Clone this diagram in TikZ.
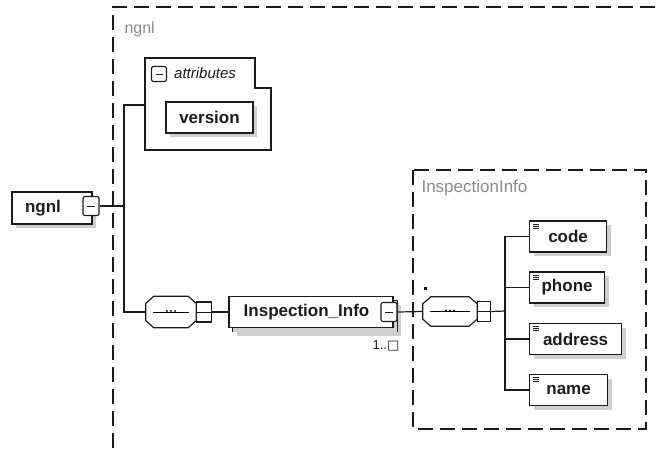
\documentclass[tikz,border=0pt]{standalone}
\usepackage{fontspec}
\setmainfont{Liberation Sans}
\newfontfamily\symfont{DejaVu Sans}
\usetikzlibrary{positioning,shadows}
\definecolor{SchemaInk}{HTML}{1C1C1C}
\definecolor{SchemaMuted}{HTML}{8A8A8A}
\definecolor{SchemaShade}{HTML}{CFCFCF}
\tikzset{
  every node/.style={text=SchemaInk},
  elem/.style={draw=SchemaInk, line width=1.2pt, fill=white, minimum height=31pt,
    inner sep=0pt, font=\fontsize{17}{20}\selectfont\bfseries,
    drop shadow={shadow xshift=4pt, shadow yshift=-4pt, fill=SchemaShade, opacity=1}},
  leaf/.style={elem, path picture={
    \draw[line width=0.7pt] ([shift={(3pt,-3pt)}]path picture bounding box.north west) -- ++(6pt,0pt)
      ++(-6pt,-2pt) -- ++(6pt,0pt) ++(-6pt,-2pt) -- ++(6pt,0pt);}},
  expander/.style={draw=SchemaInk, line width=1.1pt, fill=white, rounded corners=2pt,
    minimum width=16pt, minimum height=19pt, inner sep=0pt, path picture={
    \draw[line width=0.9pt] ([xshift=4pt]path picture bounding box.west) -- ([xshift=-4pt]path picture bounding box.east);}},
  seqtab/.style={draw=SchemaInk, line width=1.1pt, fill=white,
    minimum width=15pt, minimum height=20pt, inner sep=0pt, path picture={
    \draw[line width=0.9pt] (path picture bounding box.west) -- (path picture bounding box.east);}},
  compositor/.style={inner sep=0pt, minimum width=50pt, minimum height=31pt},
  seqframe/.style={draw=SchemaInk, line width=1.2pt, fill=white},
  seqdot/.style={fill=SchemaInk, circle, inner sep=0pt, minimum size=2.4pt},
  link/.style={draw=SchemaInk, line width=1.2pt},
  frame/.style={draw=SchemaInk, line width=1.1pt, dash pattern=on 15pt off 7pt},
  caption/.style={text=SchemaMuted, font=\fontsize{16}{19}\selectfont, anchor=west},
}
% octagonal outline of a sequence compositor around node #1
\newcommand\seqoutline[1]{%
  \draw[seqframe]
    ([xshift=8pt]#1.north west) -- ([xshift=-8pt]#1.north east)
    -- ([yshift=-7pt]#1.north east) -- ([yshift=7pt]#1.south east)
    -- ([xshift=-8pt]#1.south east) -- ([xshift=8pt]#1.south west)
    -- ([yshift=7pt]#1.south west) -- ([yshift=-7pt]#1.north west) -- cycle;
  \draw[line width=0.9pt] ([xshift=7pt]#1.west) -- ([xshift=-7pt]#1.east);
  \foreach \dx in {-4,0,4}
    \node[seqdot] at ([xshift=\dx pt, yshift=1pt]#1.center) {};}
\begin{document}
\begin{tikzpicture}[x=1pt,y=-1pt]
  \useasboundingbox (0,0) rectangle (661,448);

  % Type frames
  \draw[frame] (113,448) -- (113,7) -- (661,7);
  \node[caption] (ngnltype) at (121,29) {ngnl};
  \draw[frame] (413,170) rectangle (646,429);
  \node[caption, font=\fontsize{17}{20}\selectfont] (infotype) at (418,188) {InspectionInfo};

  % Attribute group
  \draw[draw=SchemaInk, line width=1.2pt, fill=white]
    (145,58) -- (255,58) -- (255,88) -- (271,88) -- (271,150) -- (145,150) -- cycle;
  \coordinate (attrin) at (145,105);
  \node[expander, minimum width=15pt, minimum height=15pt] (attrexp) at (159,74) {};
  \node[anchor=west, font=\fontsize{15}{18}\selectfont\itshape, inner sep=0pt] (attrs)
    at (174,73) {attributes};
  \node[elem, minimum width=87pt] (version) at (209.5,117.5) {version};

  % Root element
  \node[elem, minimum width=80pt, minimum height=32pt] (root) at (52,208) {ngnl\hspace*{18pt}};
  \node[expander] (rootexp) at (91,206) {};
  \coordinate (rootfork) at (124,206);

  % Outer sequence and repeated child
  \node[compositor] (seqouter) at (171,312) {};
  \seqoutline{seqouter}
  \node[seqtab, anchor=west] (seqoutertab) at (seqouter.east) {};
  \node[elem, minimum width=164pt] (infoback) at (315,316) {};
  \node[elem, minimum width=164pt, drop shadow={opacity=0}] (info) at (311,312) {Inspection\_Info\hspace*{9pt}};
  \node[expander] (infoexp) at (389,312) {};
  \node[text=SchemaInk, font=\fontsize{13}{15}\selectfont, inner sep=0pt] (infocard)
    at (386,346) {1..{\symfont □}};

  % Inner sequence
  \node[compositor, minimum width=54pt, minimum height=29pt] (seqinner) at (450,311.5) {};
  \seqoutline{seqinner}
  \node[seqtab, anchor=west, minimum width=13pt] (seqinnertab) at (seqinner.east) {};
  \node[fill=SchemaInk, inner sep=0pt, minimum size=3pt] (seqmark) at (425,288) {};
  \coordinate (childfork) at (505,311);

  % Leaf elements
  \node[leaf, minimum width=77pt, anchor=west] (code) at (529,236.5) {code};
  \node[leaf, minimum width=75pt, anchor=west] (phone) at (529,287.5) {phone};
  \node[leaf, minimum width=92pt, anchor=west] (address) at (529,339) {address};
  \node[leaf, minimum width=78pt, anchor=west] (name) at (529,390) {name};

  % Connectors
  \draw[link] (rootexp.east) -- (rootfork);
  \draw[link] (rootfork) |- (attrin);
  \draw[link] (rootfork) |- (seqouter.west);
  \draw[link] (seqoutertab.east) -- (info.west);
  \draw[link] (infoexp.east) -- (seqinner.west);
  \draw[link] (seqinnertab.east) -- (childfork);
  \foreach \leafname in {code,phone,address,name}
    \draw[link] (childfork) |- (\leafname.west);
\end{tikzpicture}
\end{document}
